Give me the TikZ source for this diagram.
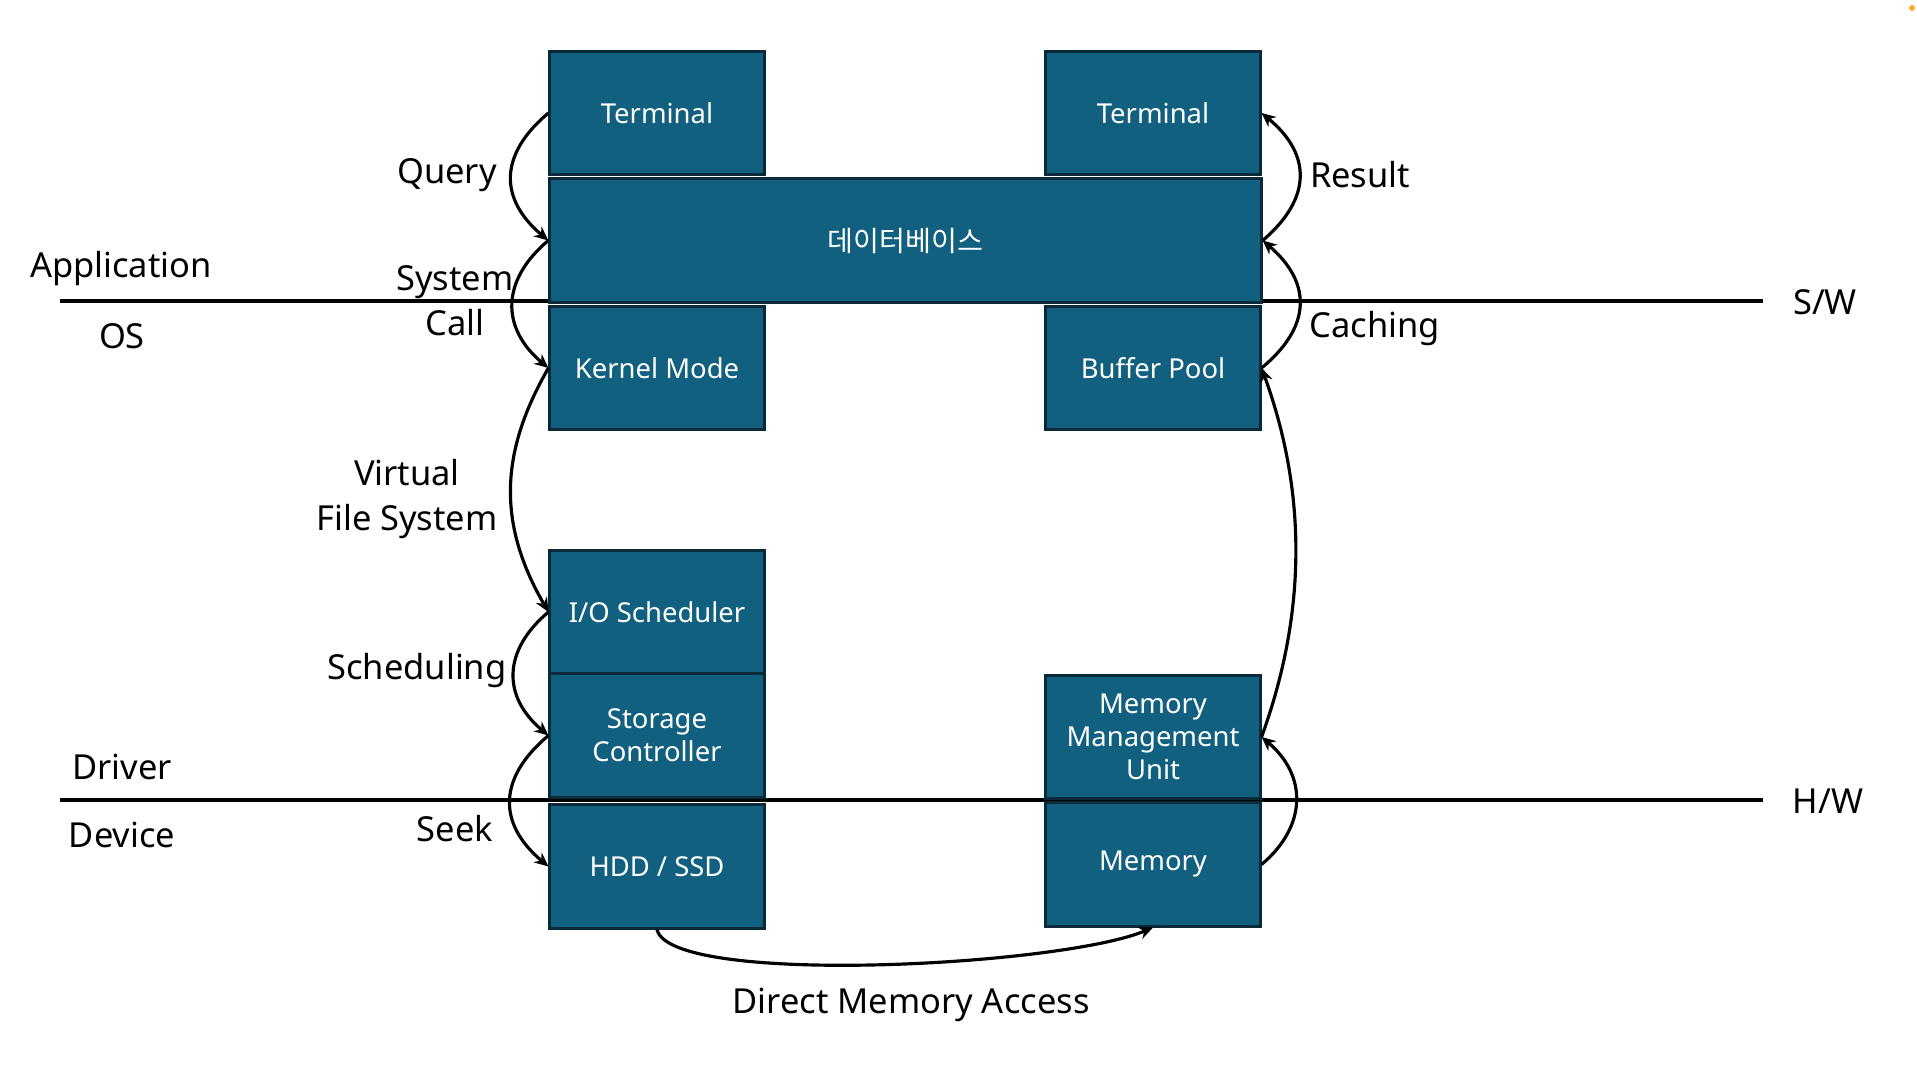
\documentclass[tikz,border=0pt]{standalone}
\usepackage{fontspec}
\setmainfont{Noto Sans}
\newfontfamily\kofont{Noto Sans CJK KR}
\usetikzlibrary{arrows.meta}
\definecolor{boxfill}{RGB}{18,96,128}
\definecolor{boxline}{RGB}{10,42,58}
\definecolor{dotcol}{RGB}{255,170,50}

\begin{document}
\begin{tikzpicture}[x=0.01cm,y=0.01cm,
    blk/.style={draw=boxline,fill=boxfill,line width=0.85pt,text=white,
        minimum width=2.14cm,minimum height=1.23cm,inner sep=1pt,align=center,
        font=\fontsize{7.8}{9.4}\selectfont},
    lbl/.style={font=\fontsize{9.8}{12.8}\selectfont,align=center},
    flow/.style={line width=0.9pt,-{Stealth[length=4pt,width=3.6pt]}},
    layer/.style={line width=1pt}]
    \def\lx{657}
    \def\rx{1153}
    \useasboundingbox (0,0) rectangle (1917,-1080);
    % S/W and H/W borders
    \draw[layer] (60,-301) -- (1763,-301);
    \draw[layer] (60,-800) -- (1763,-800);
    % left column
    \node[blk] (termL) at (\lx,-113) {Terminal};
    \node[blk] (kernel) at (\lx,-368) {Kernel Mode};
    \node[blk] (iosched) at (\lx,-612) {I/O Scheduler};
    \node[blk] (storage) at (\lx,-735.5) {Storage\\Controller};
    \node[blk] (hdd) at (\lx,-866.5) {HDD / SSD};
    % right column
    \node[blk] (termR) at (\rx,-113) {Terminal};
    \node[blk] (buffer) at (\rx,-368) {Buffer Pool};
    \node[blk,minimum height=1.22cm] (mmu) at (\rx,-737) {Memory\\Management\\Unit};
    \node[blk] (memory) at (\rx,-864.5) {Memory};
    \node[blk,minimum width=7.11cm,font=\kofont\fontsize{8}{9.4}\selectfont] (db) at (905.5,-240.5) {데이터베이스};
    % going down
    \draw[flow] (termL.west) to[bend right=50,looseness=1.3] (db.west);
    \draw[flow] (db.west) to[bend right=50,looseness=1.25] (kernel.west);
    \draw[flow] (kernel.west) to[bend right=30,looseness=1.05] (iosched.west);
    \draw[flow] (iosched.west) to[bend right=50,looseness=1.25] (storage.west);
    \draw[flow] (storage.west) to[bend right=50,looseness=1.3] (hdd.west);
    % going up
    \draw[flow] (memory.east) to[bend right=50,looseness=1.2] (mmu.east);
    \draw[flow] (mmu.east) to[bend right=20,looseness=0.92] (buffer.east);
    \draw[flow] (buffer.east) to[bend right=50,looseness=1.3] (db.east);
    \draw[flow] (db.east) to[bend right=50,looseness=1.3] (termR.east);
    \draw[flow] (hdd.south) .. controls +(13,-57) and +(-93,-39) .. (memory.south);
    % labels
    \node[lbl] (query) at (447,-175) {Query};
    \node[lbl] (syscall) at (455,-301) {System\\Call};
    \node[lbl] (vfs) at (407,-499) {Virtual\\File System};
    \node[lbl] (sched) at (417,-671) {Scheduling};
    \node[lbl] (seek) at (455,-829) {Seek};
    \node[lbl] (result) at (1360,-175) {Result};
    \node[lbl] (caching) at (1375,-329) {Caching};
    \node[lbl] (dma) at (911,-1005) {Direct Memory Access};
    \node[lbl] (app) at (121,-269) {Application};
    \node[lbl] (os) at (122,-336) {OS};
    \node[lbl] (driver) at (122,-767) {Driver};
    \node[lbl] (device) at (122,-835) {Device};
    \node[lbl] (sw) at (1825,-302) {S/W};
    \node[lbl] (hw) at (1828,-801) {H/W};
    \fill[dotcol] (1912,-8) circle (3);
\end{tikzpicture}
\end{document}
